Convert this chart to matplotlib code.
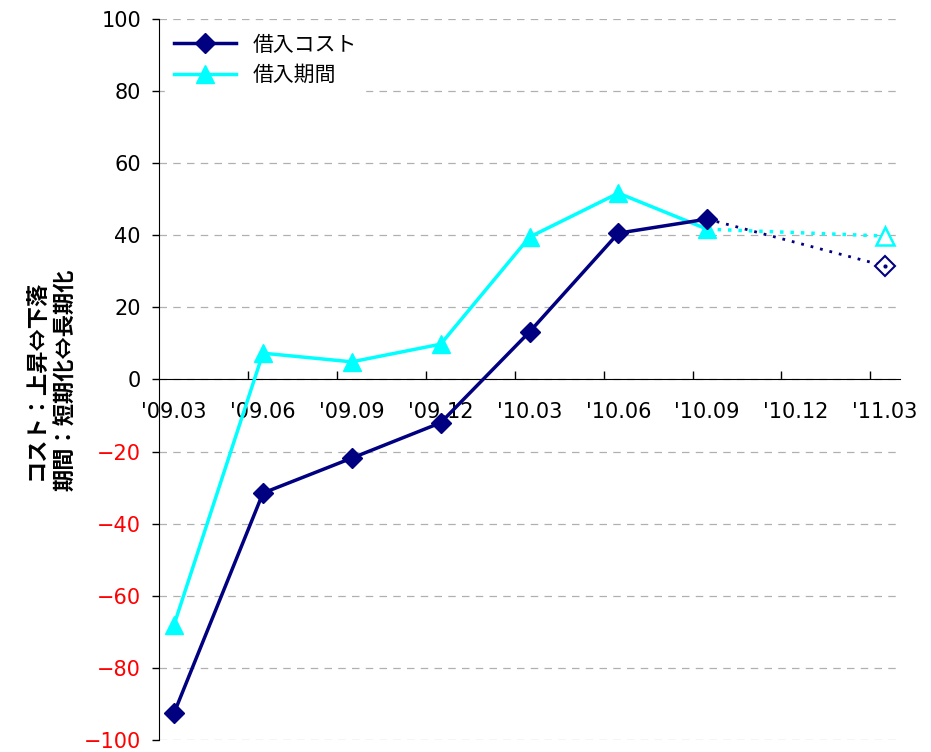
import matplotlib.pyplot as plt
import numpy as np

plt.rcParams['font.family'] = ['Noto Sans CJK JP', 'DejaVu Sans']

quarters = ["'09.03", "'09.06", "'09.09", "'09.12", "'10.03", "'10.06", "'10.09", "'10.12", "'11.03"]
cost = [-92.5, -31.5, -21.8, -12.0, 13.2, 40.6, 44.5]
period = [-68.0, 7.3, 4.9, 9.8, 39.5, 51.7, 41.7]
cost_fcst = 31.5
period_fcst = 39.8

navy = '#000080'
cyan = '#00FFFF'

fig = plt.figure(figsize=(9.31, 7.52), dpi=100)
ax = fig.add_axes([0.1708, 0.016, 0.7959, 0.9587])

x = np.arange(len(quarters))
xa = x[:len(cost)]
last = len(quarters) - 1

# forecast segments (dotted) first so solid lines sit on top
ax.plot([xa[-1], last], [cost[-1], cost_fcst], color=navy, lw=2, ls=(0, (1, 2.5)), zorder=2)
ax.plot([xa[-1], last], [period[-1], period_fcst], color=cyan, lw=2.5, ls=(0, (1, 2)), zorder=2)
ax.plot(last, cost_fcst, marker='D', ms=10, mfc='white', mec=navy, mew=1.5, zorder=4)
ax.plot(last, cost_fcst, marker='.', ms=4, color=navy, zorder=5)
ax.plot(last, period_fcst, marker='^', ms=13, mfc='white', mec=cyan, mew=1.8, zorder=4)

ax.plot(xa, cost, color=navy, lw=2.5, marker='D', ms=10, label='借入コスト', zorder=4)
ax.plot(xa, period, color=cyan, lw=2.5, marker='^', ms=13, label='借入期間', zorder=3)

ax.set_xlim(-0.17, 8.17)
ax.set_ylim(-100, 100)
yt = np.arange(-100, 101, 20)
ax.set_yticks(yt)
ax.set_yticklabels([str(v).replace('-', '\u2212') for v in yt], fontsize=15, family='DejaVu Sans')
ax.yaxis.grid(True, ls=(0, (6, 5)), color='#b0b0b0', lw=0.9)
ax.set_axisbelow(True)
for lab, v in zip(ax.get_yticklabels(), yt):
    lab.set_color('red' if v < 0 else 'black')
ax.tick_params(axis='y', direction='out', length=5, width=1, pad=8)

ax.spines['top'].set_visible(False)
ax.spines['right'].set_visible(False)
ax.spines['bottom'].set_position(('data', 0))

ax.set_xticks(x)
ax.set_xticklabels(quarters, fontsize=15, family='DejaVu Sans')
ax.set_xticks(np.arange(8) + 0.835, minor=True)
ax.tick_params(axis='x', which='major', length=0, pad=16)
ax.tick_params(axis='x', which='minor', direction='in', length=6, width=1)

ax.set_ylabel('コスト：上昇⇔下落\n期間：短期化⇔長期化', fontsize=16, fontweight='bold',
              linespacing=1.3, labelpad=5)

leg = ax.legend(loc='upper left', fontsize=15, frameon=True, fancybox=False,
                edgecolor='white', framealpha=1, borderaxespad=0.3, handlelength=3,
                labelspacing=0.4)

plt.savefig('out.png', dpi=100)
